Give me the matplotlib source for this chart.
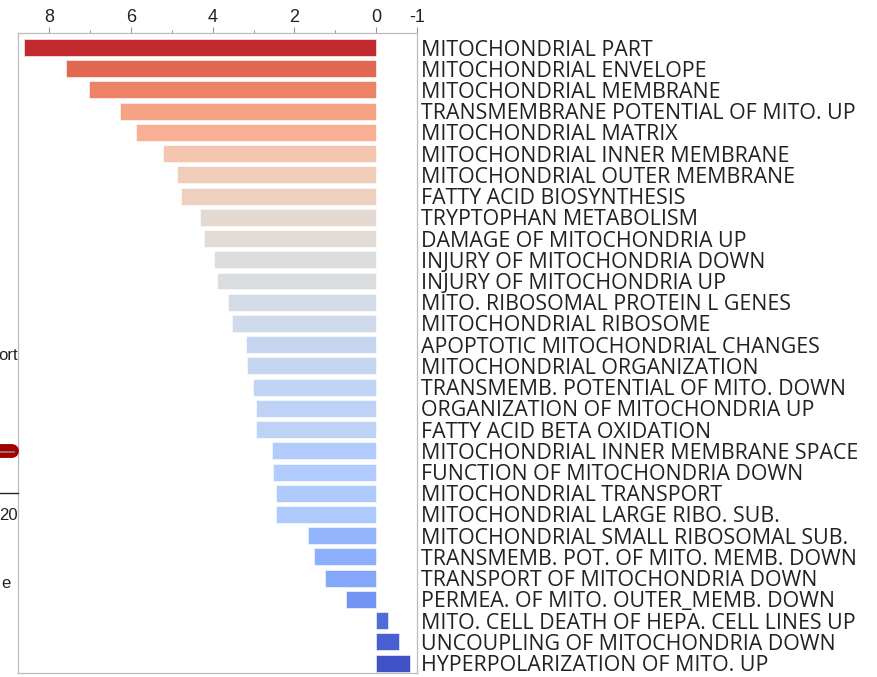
import matplotlib
matplotlib.use("Agg")
import matplotlib.pyplot as plt
from matplotlib.colors import Normalize
from matplotlib.lines import Line2D

terms = [
    "MITOCHONDRIAL PART",
    "MITOCHONDRIAL ENVELOPE",
    "MITOCHONDRIAL MEMBRANE",
    "TRANSMEMBRANE POTENTIAL OF MITO. UP",
    "MITOCHONDRIAL MATRIX",
    "MITOCHONDRIAL INNER MEMBRANE",
    "MITOCHONDRIAL OUTER MEMBRANE",
    "FATTY ACID BIOSYNTHESIS",
    "TRYPTOPHAN METABOLISM",
    "DAMAGE OF MITOCHONDRIA UP",
    "INJURY OF MITOCHONDRIA DOWN",
    "INJURY OF MITOCHONDRIA UP",
    "MITO. RIBOSOMAL PROTEIN L GENES",
    "MITOCHONDRIAL RIBOSOME",
    "APOPTOTIC MITOCHONDRIAL CHANGES",
    "MITOCHONDRIAL ORGANIZATION",
    "TRANSMEMB. POTENTIAL OF MITO. DOWN",
    "ORGANIZATION OF MITOCHONDRIA UP",
    "FATTY ACID BETA OXIDATION",
    "MITOCHONDRIAL INNER MEMBRANE SPACE",
    "FUNCTION OF MITOCHONDRIA DOWN",
    "MITOCHONDRIAL TRANSPORT",
    "MITOCHONDRIAL LARGE RIBO. SUB.",
    "MITOCHONDRIAL SMALL RIBOSOMAL SUB.",
    "TRANSMEMB. POT. OF MITO. MEMB. DOWN",
    "TRANSPORT OF MITOCHONDRIA DOWN",
    "PERMEA. OF MITO. OUTER_MEMB. DOWN",
    "MITO. CELL DEATH OF HEPA. CELL LINES UP",
    "UNCOUPLING OF MITOCHONDRIA DOWN",
    "HYPERPOLARIZATION OF MITO. UP",
]
scores = [8.62, 7.60, 7.03, 6.26, 5.89, 5.21, 4.88, 4.78, 4.32, 4.22,
          3.97, 3.90, 3.63, 3.53, 3.18, 3.17, 3.02, 2.94, 2.93, 2.54,
          2.53, 2.46, 2.45, 1.66, 1.53, 1.26, 0.73, -0.28, -0.55, -0.83]

major_ticks = [8, 6, 4, 2, 0, -1]
major_labels = ["8", "6", "4", "2", "0", "-1"]
minor_ticks = [7, 5, 3, 1]

fig = plt.figure(figsize=(8.77, 6.77), dpi=100)
ax = fig.add_axes([0.0209, 0.0059, 0.4546, 0.9453])

cmap = plt.get_cmap("coolwarm")
norm = Normalize(vmin=-1, vmax=9)
colors = [cmap(norm(v)) for v in scores]
ypos = list(range(len(terms)))

ax.barh(ypos, scores, height=0.8, color=colors, edgecolor="white", linewidth=0.4)

ax.set_xlim(8.76, -1)
ax.set_ylim(len(terms) - 0.53, -0.683)

ax.xaxis.tick_top()
ax.set_xticks(major_ticks)
ax.set_xticklabels(major_labels, family="Liberation Sans", fontsize=13,
                   color="#222222")
ax.set_xticks(minor_ticks, minor=True)
ax.tick_params(axis="x", which="major", length=4, width=0.8, color="#999999", pad=1)
ax.tick_params(axis="x", which="minor", length=2, width=0.8, color="#999999")

ax.yaxis.tick_right()
ax.set_yticks(ypos)
ax.set_yticklabels(terms, family="Open Sans", fontsize=15.4, color="#222222")
ax.tick_params(axis="y", length=0, pad=3)

for side in ["left", "right", "top", "bottom"]:
    ax.spines[side].set_color("#bbbbbb")
    ax.spines[side].set_linewidth(0.9)

# fragments of the neighbouring panel, cut off at the left edge
frag = dict(ha="right", va="center", fontsize=12, family="Liberation Sans",
            color="#222222")
fig.text(0.0205, 1 - 355 / 677, "ort", **frag)
fig.text(0.0205, 1 - 516 / 677, "20", **frag)
fig.text(0.012, 1 - 583 / 677, "e", **frag)
fig.add_artist(Line2D([0, 0.0205], [1 - 493 / 677] * 2, color="#222222", lw=1))
fig.add_artist(Line2D([0, 0.014], [1 - 451 / 677] * 2, color="#a50000", lw=10,
                      solid_capstyle="round"))
fig.add_artist(Line2D([0, 0.016], [1 - 452 / 677] * 2, color="#888888", lw=1.2))

plt.savefig("out.png", dpi=100)
